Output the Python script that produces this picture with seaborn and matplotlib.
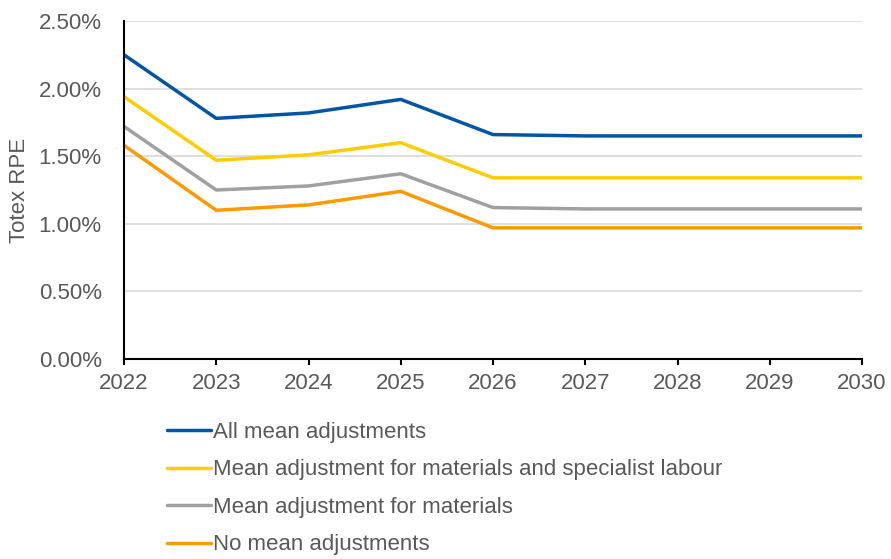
import pandas as pd
import matplotlib
matplotlib.use("Agg")
import matplotlib.pyplot as plt
import seaborn as sns
from matplotlib.ticker import PercentFormatter

# Values (percent)
years = [2022, 2023, 2024, 2025, 2026, 2027, 2028, 2029, 2030]
all_adj = [2.25, 1.78, 1.82, 1.92, 1.66, 1.65, 1.65, 1.65, 1.65]
mat_lab_adj = [1.94, 1.47, 1.51, 1.60, 1.34, 1.34, 1.34, 1.34, 1.34]
mat_adj = [1.72, 1.25, 1.28, 1.37, 1.12, 1.11, 1.11, 1.11, 1.11]
no_adj = [1.58, 1.10, 1.14, 1.24, 0.97, 0.97, 0.97, 0.97, 0.97]

series_names = ["All mean adjustments",
                "Mean adjustment for materials and specialist labour",
                "Mean adjustment for materials",
                "No mean adjustments"]
colors = ["#0055A5", "#FFCC00", "#A0A0A0", "#FF9900"]

df = pd.DataFrame({"year": years,
                   series_names[0]: all_adj,
                   series_names[1]: mat_lab_adj,
                   series_names[2]: mat_adj,
                   series_names[3]: no_adj})
long_df = df.melt(id_vars="year", var_name="series", value_name="rpe")

sns.set_theme(style="white")
plt.rcParams['font.family'] = ['Liberation Sans', 'DejaVu Sans']
text_col = "#595959"
fs = 16

fig = plt.figure(figsize=(8.91, 5.59), dpi=100)
ax = fig.add_axes([124 / 891, 1 - 359 / 559, (862 - 124) / 891, (359 - 21) / 559])

sns.lineplot(data=long_df, x="year", y="rpe", hue="series", hue_order=series_names,
             palette=colors, linewidth=2.5, ax=ax, legend=False)

ax.set_xlim(2022, 2030)
ax.set_ylim(0, 2.5)
ax.set_xticks(years)
ax.set_yticks([0, 0.5, 1.0, 1.5, 2.0, 2.5])
ax.yaxis.set_major_formatter(PercentFormatter(decimals=2))
ax.grid(axis="y", color="#D9D9D9", linewidth=1.2)
ax.set_axisbelow(True)
ax.set_xlabel("")
ax.set_ylabel("Totex RPE", fontsize=fs, color=text_col, labelpad=6)
for s in ["top", "right"]:
    ax.spines[s].set_visible(False)
for s in ["left", "bottom"]:
    ax.spines[s].set_color("black")
    ax.spines[s].set_linewidth(1.5)
ax.tick_params(axis="x", bottom=True, length=4, width=1.5, color="black",
               labelsize=fs, labelcolor=text_col, pad=6)
ax.tick_params(axis="y", left=False, labelsize=fs, labelcolor=text_col, pad=10)

handles = [plt.Line2D([], [], color=c, linewidth=2.5) for c in colors]
leg = fig.legend(handles, series_names, loc="upper left",
                 bbox_to_anchor=(167 / 891, 1 - 422 / 559), frameon=False,
                 fontsize=fs, handlelength=2.0, handletextpad=0.05,
                 labelspacing=0.74, borderaxespad=0, borderpad=0)
for t in leg.get_texts():
    t.set_color(text_col)

fig.savefig("out.png", dpi=100)
